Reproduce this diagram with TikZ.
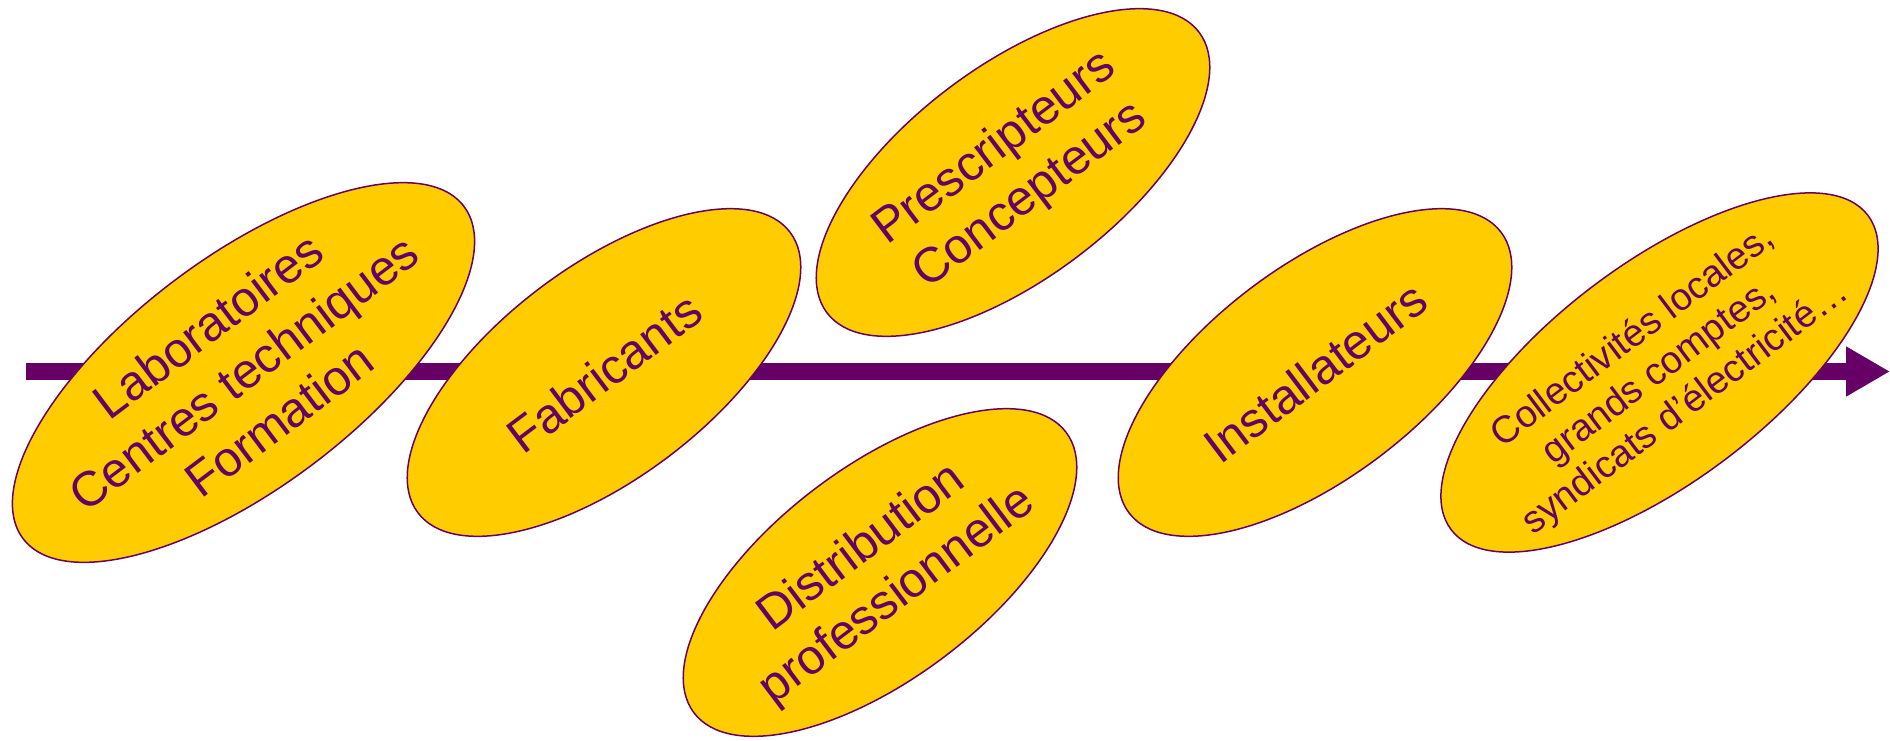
\documentclass[tikz,border=0pt]{standalone}
\usepackage{fontspec}
\setmainfont{Liberation Sans}
\usetikzlibrary{shapes.geometric,arrows.meta}
\definecolor{plum}{HTML}{660066}
\definecolor{gold}{HTML}{FFCC00}
\begin{document}
\begin{tikzpicture}[x=1pt,y=-1pt,
  bubble/.style={ellipse, draw=plum, line width=1.5pt, fill=gold, inner sep=0pt, rotate=37},
  small bubble/.style={bubble, minimum width=466pt, minimum height=212pt},
  bubbletext/.style={text=plum, align=center, rotate=37, inner sep=0pt, font=\fontsize{49}{59}\selectfont},
  flow/.style={draw=plum, line width=17pt, -{Triangle[length=44pt,width=47pt]}}]
\useasboundingbox (0,0) rectangle (1890,740);
% timeline arrow (behind the ellipses)
\coordinate (start) at (26,371.5);
\coordinate (end) at (1890,371.5);
\draw[flow] (start) -- (end);
% ellipses
\node[bubble, minimum width=552pt, minimum height=230pt] (labo) at (243.5,372.5) {};
\node[small bubble] (fab) at (604,372.5) {};
\node[small bubble] (pres) at (1013,172.5) {};
\node[small bubble] (dist) at (880,572.5) {};
\node[small bubble] (inst) at (1315,372.5) {};
\node[bubble, minimum width=522pt, minimum height=218pt] (coll) at (1659.5,372.5) {};
% texts
\node[bubbletext] (labot) at (labo.center) {Laboratoires\\Centres techniques\\Formation};
\node[bubbletext] (fabt) at (fab.center) {Fabricants};
\node[bubbletext] (prest) at (pres.center) {Prescripteurs\\Concepteurs};
\node[bubbletext] (distt) at (dist.center) {Distribution\\professionnelle};
\node[bubbletext] (instt) at (inst.center) {Installateurs};
\node[bubbletext, font=\fontsize{38}{44}\selectfont] (collt) at (coll.center) {Collectivités locales,\\grands comptes,\\syndicats d’électricité…};
\end{tikzpicture}
\end{document}
